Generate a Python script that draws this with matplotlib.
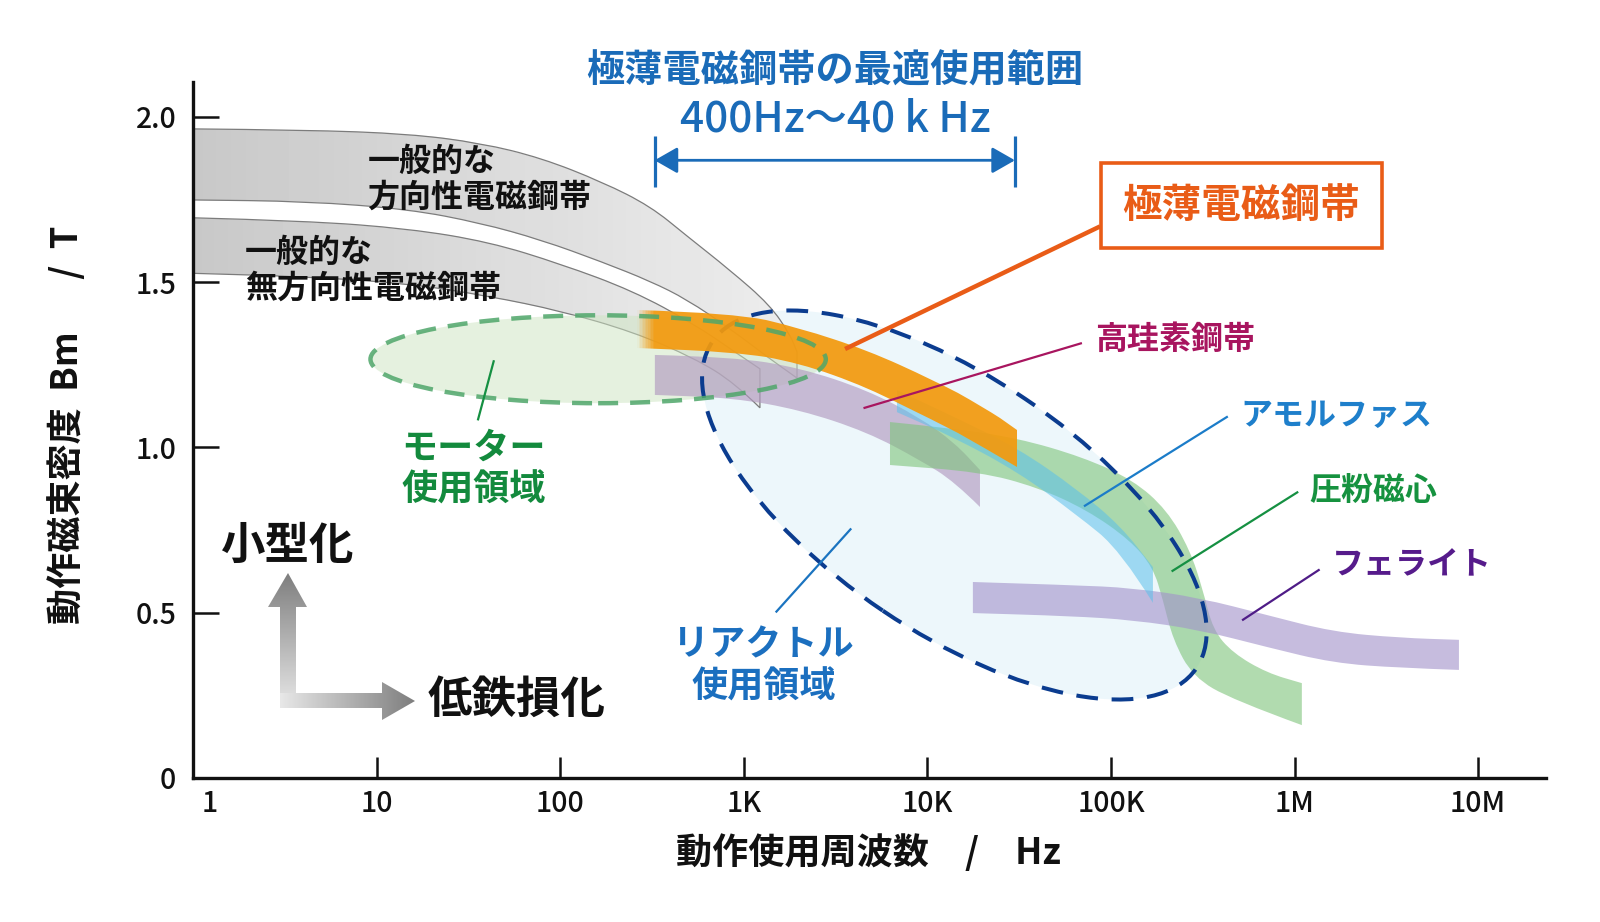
import numpy as np
import matplotlib
matplotlib.use("Agg")
import matplotlib.pyplot as plt
from matplotlib.colors import LinearSegmentedColormap, to_rgba
from matplotlib.patches import Ellipse, PathPatch, Polygon
from matplotlib.path import Path
from matplotlib.ticker import NullLocator
from matplotlib.transforms import Affine2D, ScaledTranslation

plt.rcParams["font.family"] = ["Noto Sans CJK JP", "DejaVu Sans"]

# --- values (frequency in Hz, flux density in T) ---
freq_ticks = [1, 10, 100, 1e3, 1e4, 1e5, 1e6, 1e7]
freq_tick_labels = ["1", "10", "100", "1K", "10K", "100K", "1M", "10M"]
b_ticks = [0, 0.5, 1.0, 1.5, 2.0]
b_tick_labels = ["0", "0.5", "1.0", "1.5", "2.0"]

# 一般的な方向性電磁鋼帯
go_freq = [1, 4.1, 15, 37, 79, 170, 310, 490, 840, 1390, 1790, 1950]
go_top = [1.964, 1.961, 1.949, 1.921, 1.876, 1.803, 1.730, 1.640, 1.537, 1.431, 1.341, 1.289]
go_bot = [1.749, 1.745, 1.721, 1.679, 1.628, 1.561, 1.503, 1.448, 1.360, 1.268, 1.225, 1.210]

# 一般的な無方向性電磁鋼帯
no_freq = [1, 4.1, 15, 41, 101, 249, 535, 895, 1225]
no_top = [1.695, 1.686, 1.662, 1.622, 1.555, 1.474, 1.374, 1.289, 1.238]
no_bot = [1.527, 1.517, 1.496, 1.458, 1.413, 1.350, 1.271, 1.195, 1.120]

# 極薄電磁鋼帯
thin_freq = [262, 873, 2024, 4690, 10730, 20100, 30800]
thin_top = [1.416, 1.407, 1.363, 1.295, 1.204, 1.123, 1.053]
thin_bot = [1.301, 1.289, 1.256, 1.183, 1.083, 1.002, 0.941]

# 高珪素鋼帯
hisi_freq = [328, 873, 2024, 4690, 9120, 14100, 19350]
hisi_top = [1.280, 1.274, 1.241, 1.174, 1.090, 1.014, 0.932]
hisi_bot = [1.159, 1.150, 1.114, 1.047, 0.962, 0.896, 0.820]

# アモルファス
amor_freq = [6830, 13780, 31140, 65300, 113300, 169300]
amor_top = [1.174, 1.095, 0.998, 0.874, 0.762, 0.638]
amor_bot = [1.107, 1.032, 0.926, 0.796, 0.687, 0.530]

# 圧粉磁心
dust_top_freq = [6260, 13280, 30760, 70300, 131800, 201800, 269300, 316900, 359400, 461700, 707400, 1096000]
dust_top = [1.077, 1.059, 1.029, 0.971, 0.902, 0.811, 0.690, 0.569, 0.448, 0.378, 0.318, 0.287]
dust_bot_freq = [6260, 19350, 39540, 74000, 126900, 169300, 192000, 217700, 279900, 461700, 1096000]
dust_bot = [0.947, 0.926, 0.880, 0.811, 0.720, 0.638, 0.539, 0.418, 0.306, 0.236, 0.160]

# フェライト
ferr_freq = [17700, 59800, 131800, 305300, 707400, 1619000, 3750000, 7860000]
ferr_top = [0.593, 0.584, 0.575, 0.545, 0.493, 0.442, 0.424, 0.418]
ferr_bot = [0.499, 0.490, 0.478, 0.448, 0.396, 0.348, 0.333, 0.327]

# usage regions: centre (Hz, T) and half-axes (decades, T)
motor_center = (161, 1.267)
motor_half = (1.240, 0.133)
reactor_center = (14030, 0.826)
reactor_major = (1.318, -0.494)
reactor_minor = (0.389, 0.320)

optimum_range = [327, 30000]   # 400Hz～40kHz arrow as drawn
optimum_b = 1.869
optimum_bar = (1.788, 1.943)

# leader lines: (freqs, flux densities), label end first
motor_leader = ([43.6, 35.6], [1.264, 1.082])
reactor_leader = ([3850, 1493], [0.755, 0.501])
thin_leader = ([87300, 3563], [1.669, 1.298])
hisi_leader = ([69500, 4490], [1.316, 1.119])
amor_leader = ([433000, 71300], [1.094, 0.822])
dust_leader = ([1.047e6, 214000], [0.866, 0.625])
ferr_leader = ([1.37e6, 518000], [0.631, 0.477])

# --- colours ---
INK = "#111111"
BLUE_TXT = "#1A6BB8"
ORANGE = "#F39A0E"
ORANGE_RED = "#E95C17"
GREEN_TXT = "#138A3D"
NAVY = "#0B3C8F"

fig = plt.figure(figsize=(16, 9.22), dpi=100)
ax = fig.add_axes([0.1206, 0.1562, 0.8456, 0.7549])
ax.set_xscale("log")
ax.set_xlim(1, 2.34e7)
ax.set_ylim(0, 2.106)
ax.set_autoscale_on(False)
scaled = ax.transLimits + ax.transAxes   # (log10 Hz, T) -> display


def curve(freqs, vals, first):
    lx = np.log10(freqs)
    verts, codes = [(lx[0], vals[0])], [first]
    for i in range(1, len(lx) - 1):
        verts += [(lx[i], vals[i]), ((lx[i] + lx[i + 1]) / 2, (vals[i] + vals[i + 1]) / 2)]
        codes += [Path.CURVE3, Path.CURVE3]
    verts.append((lx[-1], vals[-1]))
    codes.append(Path.LINETO)
    return verts, codes


def band_path(f_top, b_top, f_bot, b_bot, closed=True):
    v1, c1 = curve(f_top, b_top, Path.MOVETO)
    v2, c2 = curve(f_bot[::-1], b_bot[::-1], Path.LINETO)
    if closed:
        return Path(v1 + v2 + [v1[0]], c1 + c2 + [Path.CLOSEPOLY])
    return Path(v1 + v2, c1 + c2)


def gradient_band(path, f_lo, f_hi, cmap, shade, zorder):
    edges = np.logspace(np.log10(f_lo), np.log10(f_hi), 241)
    mids = (np.log10(edges[:-1]) + np.log10(edges[1:])) / 2
    ys = path.vertices[:, 1]
    mesh = ax.pcolormesh(edges, [ys.min() - 0.02, ys.max() + 0.02], shade(mids)[None, :],
                         cmap=cmap, vmin=0, vmax=1, shading="flat", antialiased=False, zorder=zorder)
    mesh.set_clip_path(path, scaled)


def solid_band(path, color, alpha, zorder):
    ax.add_patch(PathPatch(path, transform=scaled, facecolor=color, edgecolor="none",
                           alpha=alpha, zorder=zorder))


# reactor region fill (bottom layer)
reactor_tf = Affine2D.from_values(reactor_major[0], reactor_major[1], reactor_minor[0], reactor_minor[1],
                                  np.log10(reactor_center[0]), reactor_center[1]) + scaled
ax.add_patch(Ellipse((0, 0), 2, 2, transform=reactor_tf, facecolor="#EDF7FB", edgecolor="none", zorder=1))

# general electrical steel bands (grey gradient, thin outline)
gray_cmap = LinearSegmentedColormap.from_list("gray_band", [to_rgba("#C2C2C2", 0.9), to_rgba("#EBEBEB", 0.85)])
for fr, top, bot in [(go_freq, go_top, go_bot), (no_freq, no_top, no_bot)]:
    p = band_path(fr, top, fr, bot)
    lo, hi = np.log10(fr[0]), np.log10(fr[-1])
    gradient_band(p, fr[0], fr[-1], gray_cmap, lambda m, lo=lo, hi=hi: (m - lo) / (hi - lo), 2)
    ax.add_patch(PathPatch(band_path(fr, top, fr, bot, closed=False), transform=scaled, fill=False,
                           edgecolor="#7C7C7C", lw=0.9, zorder=2.2))

# motor region fill
motor_xy = (np.log10(motor_center[0]), motor_center[1])
ax.add_patch(Ellipse(motor_xy, 2 * motor_half[0], 2 * motor_half[1], transform=scaled,
                     facecolor="#CDE5C1", edgecolor="none", alpha=0.5, zorder=3))

# other materials
solid_band(band_path(hisi_freq, hisi_top, hisi_freq, hisi_bot), "#B29AC0", 0.65, 4)
solid_band(band_path(dust_top_freq, dust_top, dust_bot_freq, dust_bot), "#7EC47A", 0.6, 4.1)
solid_band(band_path(ferr_freq, ferr_top, ferr_freq, ferr_bot), "#A393CB", 0.62, 4.2)
solid_band(band_path(amor_freq, amor_top, amor_freq, amor_bot), "#5BC0EB", 0.55, 4.3)

# reactor dashed outline
ax.add_patch(Ellipse((0, 0), 2, 2, transform=reactor_tf, facecolor="none", edgecolor=NAVY,
                     lw=2.9, linestyle=(0, (5.4, 3.4)), zorder=5))

# ultra-thin electrical steel (orange, fading in on the low-frequency side)
orange_cmap = LinearSegmentedColormap.from_list("orange_fade", [to_rgba(ORANGE, 0.0), to_rgba(ORANGE, 0.93)])
thin_p = band_path(thin_freq, thin_top, thin_freq, thin_bot)
f0, f1 = np.log10(thin_freq[0]), np.log10(optimum_range[0])
gradient_band(thin_p, thin_freq[0], thin_freq[-1], orange_cmap,
              lambda m: np.clip((m - f0) / (f1 - f0), 0, 1), 6)

# motor dashed outline
ax.add_patch(Ellipse(motor_xy, 2 * motor_half[0], 2 * motor_half[1], transform=scaled,
                     facecolor="none", edgecolor="#4FA66A", alpha=0.85, lw=3.2,
                     linestyle=(0, (4.5, 2.7)), zorder=7))

# optimum range arrow
ax.annotate("", xy=(optimum_range[1], optimum_b), xytext=(optimum_range[0], optimum_b),
            arrowprops=dict(arrowstyle="<|-|>,head_length=0.35,head_width=0.2", color=BLUE_TXT,
                            lw=2.0, shrinkA=0, shrinkB=0, mutation_scale=40), zorder=9)
ax.vlines(optimum_range, *optimum_bar, color=BLUE_TXT, lw=2.3, zorder=9)

# leaders and labels
for (fx, bx), col, lw in [(motor_leader, "#159042", 1.6), (reactor_leader, "#1B74C0", 1.6),
                          (hisi_leader, "#A8155F", 1.6), (amor_leader, "#1B7CC9", 1.6),
                          (dust_leader, "#159042", 1.6), (ferr_leader, "#4F1C87", 1.6),
                          (thin_leader, ORANGE_RED, 3.2)]:
    ax.plot(fx, bx, color=col, lw=lw, solid_capstyle="butt", zorder=8)

lab = dict(fontweight="bold", va="center", zorder=10, clip_on=False)
ax.text(8.92, 1.810, "一般的な\n方向性電磁鋼帯", fontsize=23, color=INK, ha="left", linespacing=1.15, **lab)
ax.text(1.92, 1.536, "一般的な\n無方向性電磁鋼帯", fontsize=23, color=INK, ha="left", linespacing=1.15, **lab)
ax.text(13.6, 0.934, "モーター\n使用領域", fontsize=26, color=GREEN_TXT, ha="left", linespacing=1.15, **lab)
ax.text(1280, 0.339, "リアクトル\n使用領域", fontsize=26, color="#1B6FBF", ha="center", linespacing=1.15, **lab)
mat = dict(fontsize=23, va="center", ha="left", zorder=10, fontweight="bold")
ax.text(82000, 1.326, "高珪素鋼帯", color="#A8155F", **mat)
ax.text(505000, 1.094, "アモルファス", color="#1E7FCB", **mat)
ax.text(1.205e6, 0.866, "圧粉磁心", color="#16923F", **mat)
ax.text(1.6e6, 0.643, "フェライト", color="#561B8B", **mat)
ax.text(514000, 1.732, "極薄電磁鋼帯", fontsize=28.5, fontweight="bold", color=ORANGE_RED,
        ha="center", va="center", zorder=12,
        bbox=dict(boxstyle="square,pad=0.55", facecolor="white", edgecolor=ORANGE_RED, lw=2.6))

# axes styling
for side in ("top", "right"):
    ax.spines[side].set_visible(False)
for side in ("left", "bottom"):
    ax.spines[side].set_linewidth(2.4)
    ax.spines[side].set_color(INK)
    ax.spines[side].set_zorder(11)
ax.set_facecolor("none")
ax.set_xticks(freq_ticks)
ax.set_xticklabels(freq_tick_labels, fontweight="medium")
ax.xaxis.set_minor_locator(NullLocator())
ax.set_yticks(b_ticks)
ax.set_yticklabels(b_tick_labels, fontweight="medium")
ax.tick_params(axis="y", direction="in", length=19, width=1.8, pad=12, labelsize=20.5, colors=INK)
ax.tick_params(axis="x", direction="in", length=15, width=1.8, pad=8, labelsize=20.5, colors=INK)
first = ax.xaxis.get_major_ticks()[0].label1
first.set_transform(first.get_transform() + ScaledTranslation(0.17, 0, fig.dpi_scale_trans))

fig.text(0.0422, 0.539, "動作磁束密度  Bm　  /  T", rotation=90, ha="center", va="center",
         fontsize=26, fontweight="bold", color=INK)
fig.text(0.543, 0.0748, "動作使用周波数　/　Hz", ha="center", va="center",
         fontsize=26, fontweight="bold", color=INK)

# decoration layer in pixel coordinates: title block and the trend arrows
deco = fig.add_axes([0, 0, 1, 1], zorder=5)
deco.axis("off")
deco.text(835, 71, "極薄電磁鋼帯の最適使用範囲", ha="center", va="center", fontsize=27.5,
          fontweight="bold", color=BLUE_TXT)
deco.text(835, 119, "400Hz～40 k Hz", ha="center", va="center", fontsize=30.5,
          fontweight="medium", color=BLUE_TXT)

arrow_cmap = LinearSegmentedColormap.from_list("arrow", ["#E8E8E8", "#7E7E7E"])
vert_arm = Polygon([(280, 708), (296, 708), (296, 607), (307, 607), (288, 573), (268, 607), (280, 607)],
                   closed=True, facecolor="none", edgecolor="none")
horiz_arm = Polygon([(280, 693), (382, 693), (382, 682), (415, 701), (382, 720), (382, 708), (280, 708)],
                    closed=True, facecolor="none", edgecolor="none")
deco.add_patch(vert_arm)
deco.add_patch(horiz_arm)
im = deco.imshow(np.linspace(1, 0, 256)[:, None], extent=(268, 307, 708, 573), cmap=arrow_cmap,
                 aspect="auto", vmin=0, vmax=1)
im.set_clip_path(vert_arm)
im = deco.imshow(np.linspace(0, 1, 256)[None, :], extent=(280, 415, 720, 682), cmap=arrow_cmap,
                 aspect="auto", vmin=0, vmax=1)
im.set_clip_path(horiz_arm)
deco.text(221, 546, "小型化", ha="left", va="center", fontsize=32, fontweight="bold", color=INK)
deco.text(428, 700, "低鉄損化", ha="left", va="center", fontsize=32, fontweight="bold", color=INK)
deco.set_xlim(0, 1600)
deco.set_ylim(922, 0)

fig.savefig("out.png", dpi=100, facecolor="white")
